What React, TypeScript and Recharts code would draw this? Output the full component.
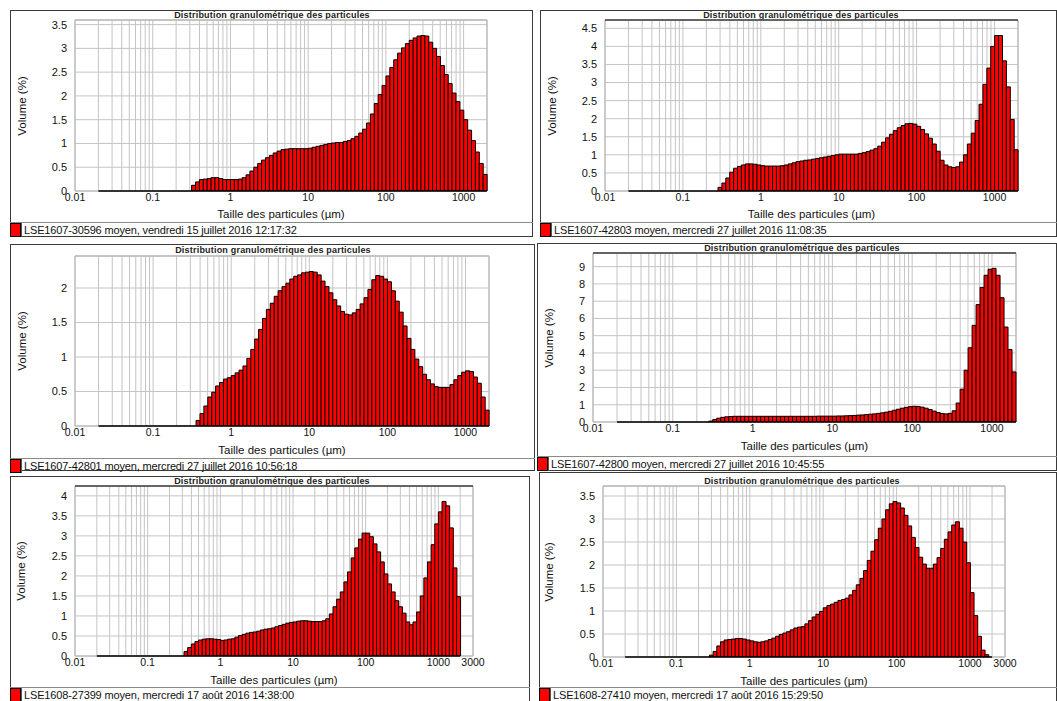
import React from "react";
import {
  ComposedChart,
  Bar,
  XAxis,
  YAxis,
  CartesianGrid,
  ReferenceLine,
  ReferenceArea
} from "recharts";

// size classes of the granulometer, lower edge of each class (µm)
const SIZE_CLASSES = [
  0.02, 0.0224, 0.0252, 0.0283, 0.0317, 0.0356, 0.0399, 0.0448, 0.0502, 0.0564,
  0.0632, 0.071, 0.0796, 0.0893, 0.1, 0.112, 0.126, 0.142, 0.159, 0.178,
  0.2, 0.224, 0.252, 0.283, 0.317, 0.356, 0.399, 0.448, 0.502, 0.564,
  0.632, 0.71, 0.796, 0.893, 1, 1.12, 1.26, 1.42, 1.59, 1.78,
  2, 2.24, 2.52, 2.83, 3.17, 3.56, 3.99, 4.48, 5.02, 5.64,
  6.32, 7.1, 7.96, 8.93, 10, 11.2, 12.6, 14.2, 15.9, 17.8,
  20, 22.4, 25.2, 28.3, 31.7, 35.6, 39.9, 44.8, 50.2, 56.4,
  63.2, 71, 79.6, 89.3, 100, 112, 126, 142, 159, 178,
  200, 224, 252, 283, 317, 356, 399, 448, 502, 564,
  632, 710, 796, 893, 1000, 1120, 1260, 1420, 1590, 1780
];
// empty classes between the start of the axis and the first class
const EMPTY_BELOW = [0.01, 0.0112, 0.0126, 0.0142, 0.0159, 0.0178];

// volume (%) per class
const vol30596 = [
  0, 0, 0, 0, 0, 0, 0, 0, 0, 0, 0, 0, 0, 0, 0, 0, 0, 0, 0, 0, 0, 0, 0, 0,
  0.12, 0.19, 0.24, 0.25, 0.26, 0.28, 0.28, 0.26, 0.24, 0.24,
  0.24, 0.24, 0.25, 0.28, 0.34, 0.42, 0.5, 0.58, 0.65, 0.7,
  0.75, 0.8, 0.84, 0.87, 0.88, 0.89, 0.89, 0.89, 0.89, 0.89,
  0.9, 0.92, 0.94, 0.96, 0.98, 1.0, 1.01, 1.02, 1.02, 1.04,
  1.06, 1.1, 1.15, 1.22, 1.3, 1.43, 1.62, 1.84, 2.03, 2.22,
  2.42, 2.6, 2.76, 2.9, 3.01, 3.1, 3.17, 3.22, 3.26, 3.27,
  3.26, 3.13, 3.0, 2.83, 2.64, 2.45, 2.26, 2.06, 1.88, 1.7,
  1.5, 1.28, 1.06, 0.82, 0.58, 0.35
];
const vol42803 = [
  0, 0, 0, 0, 0, 0, 0, 0, 0, 0, 0, 0, 0, 0, 0, 0, 0, 0, 0, 0, 0, 0, 0,
  0.1, 0.22, 0.36, 0.52, 0.63, 0.68, 0.72, 0.75, 0.75, 0.74,
  0.72, 0.7, 0.69, 0.69, 0.69, 0.69, 0.7, 0.72, 0.75, 0.78,
  0.81, 0.83, 0.85, 0.86, 0.88, 0.9, 0.92, 0.94, 0.96, 0.98,
  1.0, 1.02, 1.02, 1.02, 1.02, 1.02, 1.04, 1.06, 1.09, 1.13,
  1.17, 1.24, 1.35, 1.47, 1.57, 1.67, 1.75, 1.81, 1.86, 1.87,
  1.85, 1.79, 1.7, 1.58, 1.46, 1.3, 1.1, 0.85, 0.72, 0.67,
  0.65, 0.67, 0.8, 1.0, 1.3, 1.6, 1.95, 2.4, 2.95, 3.4,
  4.0, 4.3, 4.3, 3.6, 2.88, 1.98, 1.14
];
const vol42801 = [
  0, 0, 0, 0, 0, 0, 0, 0, 0, 0, 0, 0, 0, 0, 0, 0, 0, 0, 0, 0, 0, 0, 0, 0, 0,
  0.08, 0.18, 0.29, 0.42, 0.49, 0.58, 0.63, 0.68, 0.7, 0.73,
  0.77, 0.81, 0.87, 0.98, 1.11, 1.26, 1.4, 1.56, 1.69, 1.78,
  1.88, 1.96, 2.02, 2.07, 2.13, 2.17, 2.19, 2.22, 2.23, 2.24,
  2.23, 2.19, 2.1, 2.02, 1.93, 1.83, 1.74, 1.66, 1.62, 1.61,
  1.64, 1.69, 1.77, 1.86, 1.98, 2.12, 2.18, 2.17, 2.13, 2.09,
  1.96, 1.81, 1.65, 1.45, 1.27, 1.11, 0.97, 0.86, 0.75, 0.67,
  0.61, 0.57, 0.56, 0.56, 0.56, 0.6, 0.67, 0.73, 0.78, 0.8,
  0.79, 0.71, 0.62, 0.42, 0.23
];
const vol42800 = [
  0, 0, 0, 0, 0, 0, 0, 0, 0, 0, 0, 0, 0, 0, 0, 0, 0, 0, 0, 0, 0, 0, 0,
  0.05, 0.14, 0.22, 0.27, 0.3, 0.32, 0.33, 0.33, 0.33, 0.33,
  0.33, 0.33, 0.33, 0.33, 0.33, 0.33, 0.33, 0.33, 0.33, 0.33,
  0.33, 0.33, 0.33, 0.33, 0.33, 0.33, 0.33, 0.34, 0.34, 0.34,
  0.34, 0.34, 0.35, 0.35, 0.36, 0.37, 0.38, 0.4, 0.41, 0.43,
  0.45, 0.47, 0.5, 0.53, 0.57, 0.62, 0.68, 0.74, 0.8, 0.85,
  0.89, 0.91, 0.9, 0.86, 0.8, 0.72, 0.63, 0.55, 0.49, 0.47,
  0.5, 0.65, 1.1, 1.9, 3.0, 4.3, 5.6, 6.8, 7.8, 8.5,
  8.85, 8.9, 8.5, 7.2, 5.5, 4.2, 2.9
];
const vol27399 = [
  0, 0, 0, 0, 0, 0, 0, 0, 0, 0, 0, 0, 0, 0, 0, 0, 0, 0, 0, 0, 0, 0, 0, 0,
  0.11, 0.21, 0.3, 0.36, 0.4, 0.42, 0.43, 0.43, 0.42, 0.41,
  0.39, 0.4, 0.42, 0.43, 0.47, 0.51, 0.54, 0.57, 0.59, 0.6,
  0.62, 0.65, 0.67, 0.68, 0.7, 0.73, 0.76, 0.79, 0.82, 0.84,
  0.85, 0.87, 0.88, 0.88, 0.87, 0.86, 0.86, 0.86, 0.88, 0.93,
  1.05, 1.23, 1.42, 1.6, 1.85, 2.1, 2.45, 2.7, 2.92, 3.07,
  3.07, 2.98, 2.8, 2.6, 2.35, 2.05, 1.8, 1.6, 1.38, 1.23,
  1.07, 0.85, 0.78, 0.85, 1.1, 1.5, 1.95, 2.35, 2.78, 3.3,
  3.6, 3.86, 3.75, 3.2, 2.2, 1.48
];
const vol27410 = [
  0, 0, 0, 0, 0, 0, 0, 0, 0, 0, 0, 0, 0, 0, 0, 0, 0, 0, 0, 0, 0, 0, 0,
  0.04, 0.12, 0.24, 0.33, 0.37, 0.38, 0.39, 0.4, 0.4, 0.39,
  0.37, 0.35, 0.33, 0.32, 0.33, 0.35, 0.38, 0.41, 0.45, 0.49,
  0.52, 0.55, 0.59, 0.63, 0.65, 0.66, 0.72, 0.79, 0.87, 0.93,
  0.99, 1.07, 1.12, 1.15, 1.19, 1.23, 1.25, 1.28, 1.35, 1.45,
  1.57, 1.71, 1.88, 2.1, 2.3, 2.55, 2.8, 3.0, 3.2, 3.33,
  3.38, 3.35, 3.24, 3.08, 2.85, 2.6, 2.38, 2.17, 2.02, 1.93,
  1.93, 2.02, 2.16, 2.36, 2.56, 2.72, 2.87, 2.94, 2.8, 2.5,
  2.05, 1.4, 0.9, 0.45, 0.15, 0.05, 0
];

// x grid (log) and labelled ticks
const GRID_TICKS = [
  0.01, 0.02, 0.03, 0.04, 0.05, 0.06, 0.07, 0.08, 0.09,
  0.1, 0.2, 0.3, 0.4, 0.5, 0.6, 0.7, 0.8, 0.9,
  1, 2, 3, 4, 5, 6, 7, 8, 9,
  10, 20, 30, 40, 50, 60, 70, 80, 90,
  100, 200, 300, 400, 500, 600, 700, 800, 900,
  1000, 2000
];
const GRID_TICKS_3000 = [...GRID_TICKS, 3000];
const X_LABELS = [0.01, 0.1, 1, 10, 100, 1000];
const X_LABELS_3000 = [0.01, 0.1, 1, 10, 100, 1000, 3000];

const Y_TICKS_35 = [0, 0.5, 1, 1.5, 2, 2.5, 3, 3.5];
const Y_TICKS_45 = [0, 0.5, 1, 1.5, 2, 2.5, 3, 3.5, 4, 4.5];
const Y_TICKS_2 = [0, 0.5, 1, 1.5, 2];
const Y_TICKS_9 = [0, 1, 2, 3, 4, 5, 6, 7, 8, 9];
const Y_TICKS_4 = [0, 0.5, 1, 1.5, 2, 2.5, 3, 3.5, 4];

const TITLE = "Distribution granulométrique des particules";
const X_TITLE = "Taille des particules (µm)";
const Y_TITLE = "Volume (%)";

const FONT = '"Liberation Sans", Arial, sans-serif';
const YW = 45;
const RM = 20;
const TM = 6;
const XH = 18;

type Panel = {
  box: { x: number; y: number; w: number; h: number };
  plot: { l: number; t: number; r: number; b: number };
  vols: number[];
  yTicks: number[];
  xMax: number;
  legend: string;
  titleX: number;
  titleY: number;
  xLabelY: number;
  yLabelX: number;
  legendY: number;
  topStroke: string;
};

const PANELS: Panel[] = [
  {
    box: { x: 10, y: 10, w: 523, h: 227 },
    plot: { l: 75, t: 20, r: 487, b: 191 },
    vols: vol30596,
    yTicks: Y_TICKS_35,
    xMax: 2000,
    legend: "LSE1607-30596 moyen, vendredi 15 juillet 2016 12:17:32",
    titleX: 272,
    titleY: 15,
    xLabelY: 214,
    yLabelX: 21.5,
    legendY: 222,
    topStroke: "#bdbdbd"
  },
  {
    box: { x: 540, y: 10, w: 517, h: 227 },
    plot: { l: 605, t: 20, r: 1018, b: 191 },
    vols: vol42803,
    yTicks: Y_TICKS_45,
    xMax: 2000,
    legend: "LSE1607-42803 moyen, mercredi 27 juillet 2016 11:08:35",
    titleX: 801,
    titleY: 15,
    xLabelY: 214,
    yLabelX: 551.5,
    legendY: 222,
    topStroke: "#000"
  },
  {
    box: { x: 10, y: 244, w: 525, h: 227 },
    plot: { l: 75, t: 256, r: 489, b: 426 },
    vols: vol42801,
    yTicks: Y_TICKS_2,
    xMax: 2000,
    legend: "LSE1607-42801 moyen, mercredi 27 juillet 2016 10:56:18",
    titleX: 273,
    titleY: 249.5,
    xLabelY: 450,
    yLabelX: 21.5,
    legendY: 458,
    topStroke: "#bdbdbd"
  },
  {
    box: { x: 537, y: 243, w: 520, h: 228 },
    plot: { l: 593, t: 253, r: 1016, b: 422 },
    vols: vol42800,
    yTicks: Y_TICKS_9,
    xMax: 2000,
    legend: "LSE1607-42800 moyen, mercredi 27 juillet 2016 10:45:55",
    titleX: 802,
    titleY: 248,
    xLabelY: 446,
    yLabelX: 549,
    legendY: 456,
    topStroke: "#000"
  },
  {
    box: { x: 10, y: 476, w: 520, h: 230 },
    plot: { l: 75, t: 486, r: 473, b: 656 },
    vols: vol27399,
    yTicks: Y_TICKS_4,
    xMax: 3000,
    legend: "LSE1608-27399 moyen, mercredi 17 août 2016 14:38:00",
    titleX: 272,
    titleY: 481,
    xLabelY: 680,
    yLabelX: 21,
    legendY: 687,
    topStroke: "#000"
  },
  {
    box: { x: 539, y: 472, w: 518, h: 234 },
    plot: { l: 603, t: 486, r: 1005, b: 657 },
    vols: vol27410,
    yTicks: Y_TICKS_35,
    xMax: 3000,
    legend: "LSE1608-27410 moyen, mercredi 17 août 2016 15:29:50",
    titleX: 802,
    titleY: 480.5,
    xLabelY: 680.5,
    yLabelX: 548.5,
    legendY: 687,
    topStroke: "#bdbdbd"
  }
];

function GranuloPanel({ p }: { p: Panel }) {
  const plotW = p.plot.r - p.plot.l;
  const plotH = p.plot.b - p.plot.t;
  const ymax = Math.max(...p.vols) * 1.1;
  const rows = [
    ...EMPTY_BELOW.map((s) => ({ s, v: 0 })),
    ...SIZE_CLASSES.map((s, i) => ({ s, v: p.vols[i] }))
  ];
  // the classes stop at 2000 µm, the axis may go on to 3000
  const padR =
    (plotW * Math.log10(p.xMax / 2000)) / Math.log10(p.xMax / 0.01);
  const gridTicks = p.xMax > 2000 ? GRID_TICKS_3000 : GRID_TICKS;
  const labels = p.xMax > 2000 ? X_LABELS_3000 : X_LABELS;

  return (
    <>
      <div
        style={{
          position: "absolute",
          left: p.box.x,
          top: p.box.y,
          width: p.box.w,
          height: p.box.h,
          border: "1px solid #3a3a3a",
          boxSizing: "border-box"
        }}
      />
      <div
        style={{
          position: "absolute",
          left: p.titleX - 150,
          top: p.titleY - 6,
          width: 300,
          textAlign: "center",
          fontSize: 9,
          lineHeight: "12px",
          fontWeight: "bold",
          color: "#222",
          letterSpacing: 0.2
        }}
      >
        {TITLE}
      </div>
      <div
        style={{ position: "absolute", left: p.plot.l - YW, top: p.plot.t - TM }}
      >
        <ComposedChart
          width={plotW + YW + RM}
          height={plotH + TM + XH}
          data={rows}
          margin={{ top: TM, right: RM, bottom: 0, left: 0 }}
          barCategoryGap={0}
          barGap={0}
        >
          <XAxis
            xAxisId="log"
            dataKey="s"
            type="number"
            scale="log"
            domain={[0.01, p.xMax]}
            allowDataOverflow
            ticks={gridTicks}
            interval={0}
            tickFormatter={(v: number) => (labels.includes(v) ? String(v) : "")}
            tickLine={false}
            axisLine={false}
            tickSize={0}
            tickMargin={3}
            height={XH}
            tick={{ fontSize: 10.5, fill: "#111", fontFamily: FONT }}
          />
          <XAxis
            xAxisId="cat"
            dataKey="s"
            type="category"
            hide
            height={0}
            padding={{ left: 0, right: padR }}
          />
          <YAxis
            type="number"
            domain={[0, ymax]}
            allowDataOverflow
            ticks={p.yTicks}
            interval={0}
            width={YW}
            tickLine={false}
            axisLine={false}
            tick={{ fontSize: 11, fill: "#111", fontFamily: FONT }}
          />
          <CartesianGrid xAxisId="log" stroke="#c4c4c4" />
          <ReferenceArea
            xAxisId="log"
            x1={0.01}
            x2={p.xMax}
            y1={0}
            y2={ymax}
            fill="none"
            stroke="#b4b4b4"
            ifOverflow="visible"
          />
          <ReferenceLine
            xAxisId="log"
            y={ymax}
            stroke={p.topStroke}
            ifOverflow="visible"
          />
          <Bar
            xAxisId="cat"
            dataKey="v"
            fill="#ff0000"
            stroke="#000"
            strokeWidth={1}
            isAnimationActive={false}
          />
          <ReferenceLine
            xAxisId="log"
            segment={[
              { x: 0.02, y: 0 },
              { x: 2000, y: 0 }
            ]}
            stroke="#000"
            strokeWidth={1.5}
            ifOverflow="visible"
          />
        </ComposedChart>
      </div>
      <div
        style={{
          position: "absolute",
          left: (p.plot.l + p.plot.r) / 2 - 120,
          top: p.xLabelY - 7,
          width: 240,
          textAlign: "center",
          fontSize: 11.5,
          lineHeight: "14px",
          color: "#111"
        }}
      >
        {X_TITLE}
      </div>
      <div
        style={{
          position: "absolute",
          left: p.yLabelX - 40,
          top: (p.plot.t + p.plot.b) / 2 - 7,
          width: 80,
          textAlign: "center",
          fontSize: 11.5,
          lineHeight: "14px",
          color: "#111",
          transform: "rotate(-90deg)"
        }}
      >
        {Y_TITLE}
      </div>
      <div
        style={{
          position: "absolute",
          left: p.box.x,
          top: p.legendY,
          width: p.box.w,
          height: 15,
          borderTop: "1px solid #8a8a8a",
          boxSizing: "border-box"
        }}
      >
        <div
          style={{
            position: "absolute",
            left: 0,
            top: 0,
            width: 11,
            height: 14,
            background: "#ff0000",
            border: "1px solid #000",
            boxSizing: "border-box"
          }}
        />
        <div
          style={{
            position: "absolute",
            left: 11,
            top: 0,
            right: 0,
            height: 14,
            borderLeft: "1px solid #555",
            paddingLeft: 2,
            fontSize: 11,
            letterSpacing: -0.15,
            lineHeight: "14px",
            color: "#111",
            whiteSpace: "nowrap"
          }}
        >
          {p.legend}
        </div>
      </div>
    </>
  );
}

export default function App() {
  return (
    <div
      style={{
        position: "absolute",
        left: 0,
        top: 0,
        width: 1057,
        height: 701,
        overflow: "hidden",
        background: "#fff",
        fontFamily: FONT
      }}
    >
      {PANELS.map((p) => (
        <GranuloPanel key={p.legend} p={p} />
      ))}
    </div>
  );
}
